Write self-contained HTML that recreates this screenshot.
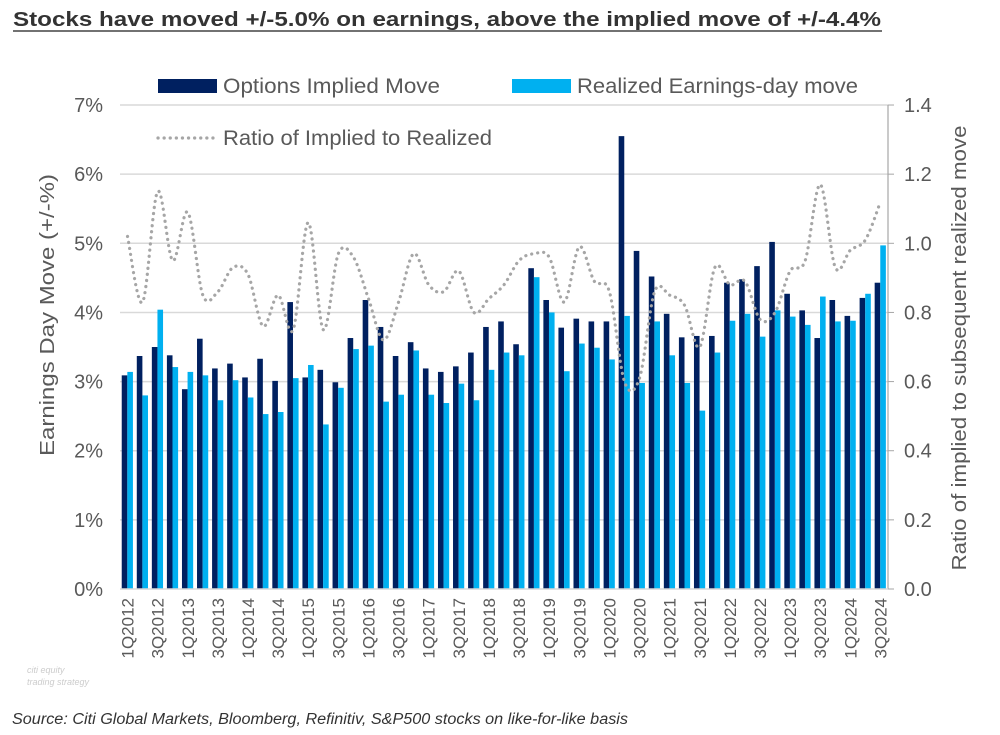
<!DOCTYPE html>
<html><head><meta charset="utf-8"><style>
body{margin:0;background:#fff;}
svg{display:block;font-family:"Liberation Sans",Arial,sans-serif;}
</style></head><body>
<svg id="chart" width="1000" height="735" viewBox="0 0 1000 735">
<text x="13" y="26" font-size="20" font-weight="bold" fill="#333" textLength="868" lengthAdjust="spacingAndGlyphs">Stocks have moved +/-5.0% on earnings, above the implied move of +/-4.4%</text>
<line x1="13" y1="31" x2="882" y2="31" stroke="#444" stroke-width="1.5"/>
<g id="grid"></g>
<g id="bars"></g>
<path id="ratio" fill="none" stroke="#a6a6a6" stroke-width="3.2" stroke-dasharray="0.1 6" stroke-linecap="round"/>
<g id="axes"></g>
<g>
<rect x="158" y="79" width="59" height="14" fill="#002060"/>
<text x="223" y="93" font-size="21" fill="#595959" textLength="217" lengthAdjust="spacingAndGlyphs">Options Implied Move</text>
<rect x="512" y="79" width="59" height="14" fill="#00b0f0"/>
<text x="577" y="93" font-size="21" fill="#595959" textLength="281" lengthAdjust="spacingAndGlyphs">Realized Earnings-day move</text>
<line x1="158" y1="138" x2="215" y2="138" stroke="#a6a6a6" stroke-width="3.2" stroke-dasharray="0.1 6" stroke-linecap="round"/>
<text x="223" y="145" font-size="21" fill="#595959" textLength="269" lengthAdjust="spacingAndGlyphs">Ratio of Implied to Realized</text>
</g>
<text transform="translate(54,315) rotate(-90)" text-anchor="middle" font-size="20" fill="#595959" textLength="282" lengthAdjust="spacingAndGlyphs">Earnings Day Move (+/-%)</text>
<text transform="translate(966,348) rotate(-90)" text-anchor="middle" font-size="20" fill="#595959" textLength="445" lengthAdjust="spacingAndGlyphs">Ratio of implied to subsequent realized move</text>
<text x="27" y="673" font-size="9" font-style="italic" fill="#ccc">citi equity</text>
<text x="27" y="685" font-size="9" font-style="italic" fill="#ccc">trading strategy</text>
<text x="12" y="724" font-size="15.5" font-style="italic" fill="#333" textLength="616" lengthAdjust="spacingAndGlyphs">Source: Citi Global Markets, Bloomberg, Refinitiv, S&amp;P500 stocks on like-for-like basis</text>
</svg>
<script>
const implied=[3.09,3.37,3.50,3.38,2.89,3.62,3.19,3.26,3.06,3.33,3.01,4.15,3.06,3.17,2.99,3.63,4.18,3.79,3.37,3.57,3.19,3.14,3.22,3.42,3.79,3.87,3.54,4.64,4.18,3.78,3.91,3.87,3.87,6.55,4.89,4.52,3.98,3.64,3.66,3.66,4.43,4.48,4.67,5.02,4.27,4.03,3.63,4.18,3.95,4.21,4.43];
const realized=[3.14,2.80,4.04,3.21,3.14,3.09,2.73,3.02,2.77,2.53,2.56,3.05,3.24,2.38,2.91,3.47,3.52,2.71,2.81,3.45,2.81,2.69,2.97,2.73,3.17,3.42,3.38,4.51,4.00,3.15,3.55,3.49,3.32,3.95,2.98,3.87,3.38,2.98,2.58,3.42,3.88,3.98,3.65,4.03,3.94,3.82,4.23,3.87,3.88,4.27,4.97];
const ratio=[1.02,0.83,1.15,0.95,1.09,0.85,0.86,0.93,0.91,0.76,0.85,0.75,1.06,0.75,0.97,0.96,0.84,0.72,0.83,0.97,0.88,0.86,0.92,0.80,0.84,0.88,0.95,0.97,0.96,0.83,0.99,0.89,0.86,0.60,0.61,0.86,0.85,0.82,0.70,0.93,0.88,0.89,0.78,0.80,0.92,0.95,1.17,0.93,0.98,1.01,1.12];
const leftTicks=["0%","1%","2%","3%","4%","5%","6%","7%"];
const rightTicks=["0.0","0.2","0.4","0.6","0.8","1.0","1.2","1.4"];
const years=[2012,2013,2014,2015,2016,2017,2018,2019,2020,2021,2022,2023,2024];
const quarters=[];years.forEach(y=>["1Q","2Q","3Q","4Q"].forEach(q=>quarters.push(q+y)));
const cats=quarters.slice(0,implied.length);

const NS="http://www.w3.org/2000/svg";
const X0=120,X1=888,Y0=589,PPU=69.14;
const pitch=(X1-X0)/cats.length;
const yL=v=>Y0-v*PPU;
const yR=v=>Y0-v*5*PPU;
const xC=i=>X0+pitch*(i+0.5);
function mk(tag,attrs,parent){const e=document.createElementNS(NS,tag);for(const k in attrs)e.setAttribute(k,attrs[k]);parent.appendChild(e);return e;}
const grid=document.getElementById('grid'),bars=document.getElementById('bars'),axes=document.getElementById('axes');
leftTicks.forEach((t,i)=>{
  const y=yL(i);
  if(i>0){const g=mk('line',{x1:X0,x2:X1,y1:y,y2:y,stroke:'#d9d9d9','stroke-width':1.5},grid);
  
  }
  const l=mk('text',{x:103,y:y+7,'text-anchor':'end','font-size':20,fill:'#595959'},axes);l.textContent=t;
  
  
});
rightTicks.forEach((t,i)=>{
  const y=yR(+t);
  const tk=mk('line',{x1:X1,x2:X1+6,y1:y,y2:y,stroke:'#a6a6a6','stroke-width':1},axes);
  
  
  const l=mk('text',{x:904,y:y+7,'font-size':20,fill:'#595959'},axes);l.textContent=t;
  
  
});
const ra=mk('line',{x1:X1,x2:X1,y1:yL(7),y2:Y0,stroke:'#a6a6a6','stroke-width':1.2},axes);


const bw=5.6;
cats.forEach((c,i)=>{
  const xc=xC(i);
  const b1=mk('rect',{x:xc-bw-0.2,y:yL(implied[i]),width:bw,height:Y0-yL(implied[i]),fill:'#002060'},bars);
  
  
  const b2=mk('rect',{x:xc-0.2,y:yL(realized[i]),width:bw,height:Y0-yL(realized[i]),fill:'#00b0f0'},bars);
  
  
  if(i%2===0){
    const l=mk('text',{transform:`translate(${xc+6},598) rotate(-90)`,'text-anchor':'end','font-size':17,fill:'#595959'},axes);
    l.textContent=c;
    
    
  }
});
const bl=mk('line',{x1:X0,x2:X1,y1:Y0,y2:Y0,stroke:'#d9d9d9','stroke-width':1.5},axes);


const pts=ratio.map((v,i)=>[xC(i),yR(v)]);
let d=`M${pts[0][0]},${pts[0][1]}`;
for(let i=0;i<pts.length-1;i++){
  const p0=pts[Math.max(0,i-1)],p1=pts[i],p2=pts[i+1],p3=pts[Math.min(pts.length-1,i+2)];
  const c1=[p1[0]+(p2[0]-p0[0])/6,p1[1]+(p2[1]-p0[1])/6],c2=[p2[0]-(p3[0]-p1[0])/6,p2[1]-(p3[1]-p1[1])/6];
  d+=` C${c1[0]},${c1[1]} ${c2[0]},${c2[1]} ${p2[0]},${p2[1]}`;
}
document.getElementById('ratio').setAttribute('d',d);
</script>
</body></html>
